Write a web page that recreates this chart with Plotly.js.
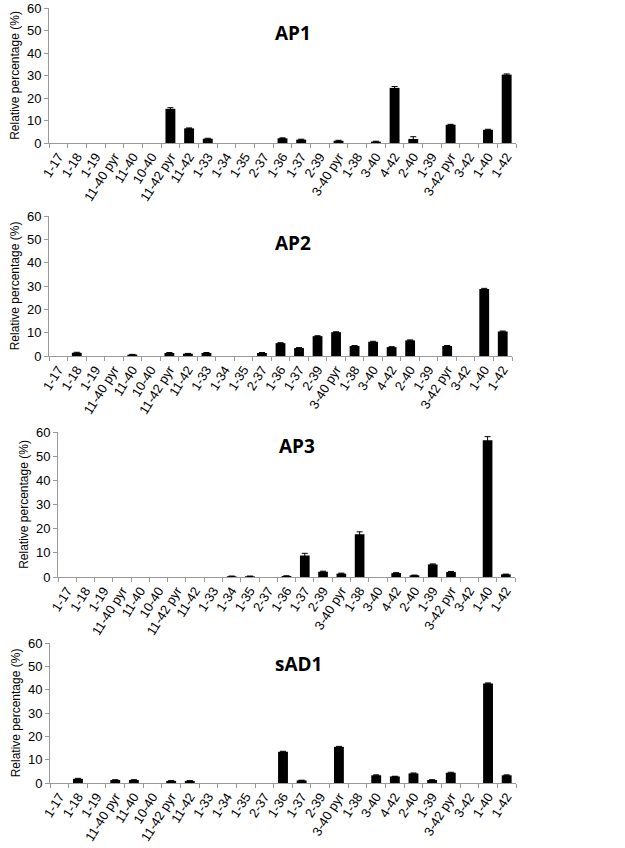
<!DOCTYPE html>
<html>
<head>
<meta charset="utf-8">
<script src="https://cdn.plot.ly/plotly-3.0.1.min.js"></script>
<style>html,body{margin:0;padding:0;background:#fff;}#chart{width:625px;height:848px;}</style>
</head>
<body>
<div id="chart"></div>
<script>
const categories = ["1-17","1-18","1-19","11-40 pyr","11-40","10-40","11-42 pyr","11-42","1-33","1-34","1-35","2-37","1-36","1-37","2-39","3-40 pyr","1-38","3-40","4-42","2-40","1-39","3-42 pyr","3-42","1-40","1-42"];
const panelNames = ["AP1","AP2","AP3","sAD1"];

const ap1 = [0,0,0,0,0,0,15.2,6.5,1.9,0,0,0,2.1,1.5,0,1.0,0,0.6,24.5,1.8,0,8.1,0,5.9,30.4];
const ap1Err = [0,0,0,0,0,0,0.5,0.2,0.2,0,0,0,0.2,0.2,0,0.2,0,0.2,0.6,1.0,0,0.2,0,0.2,0.3];
const ap2 = [0,1.4,0,0,0.6,0,1.3,1.0,1.3,0,0,1.3,5.5,3.4,8.5,10.2,4.3,6.1,3.8,6.7,0,4.3,0,28.7,10.5];
const ap2Err = [0,0.2,0,0,0.1,0,0.2,0.1,0.2,0,0,0.2,0.2,0.2,0.2,0.2,0.2,0.2,0.2,0.2,0,0.2,0,0.3,0.2];
const ap3 = [0,0,0,0,0,0,0,0,0,0.3,0.3,0,0.4,8.9,2.2,1.4,17.7,0,1.6,0.7,5.2,2.1,0,56.6,1.1];
const ap3Err = [0,0,0,0,0,0,0,0,0,0.1,0.1,0,0.1,0.9,0.2,0.2,1.0,0,0.2,0.1,0.2,0.2,0,1.5,0.1];
const sad1 = [0,1.8,0,1.3,1.3,0,0.9,0.9,0,0,0,0,13.4,1.1,0,15.5,0,3.3,2.8,4.1,1.3,4.4,0,42.7,3.3];
const sad1Err = [0,0.2,0,0.1,0.1,0,0.1,0.1,0,0,0,0,0.2,0.1,0,0.2,0,0.2,0.1,0.2,0.1,0.2,0,0.2,0.2];
const yTicks = [0,10,20,30,40,50,60];

const series = [ap1, ap2, ap3, sad1];
const errs = [ap1Err, ap2Err, ap3Err, sad1Err];

const W = 625, H = 848;
// pixel boxes of each panel [left, right, top, bottom]
const boxes = [[49,516,8,143],[49,512,216,356],[58,515,432,577],[50,516,643,783]];
const titlePos = [[293,33],[293,243],[297,446],[298,664]];

const traces = [];
const layout = {
  width: W, height: H,
  margin: {l:0, r:0, t:0, b:0},
  paper_bgcolor: '#fff', plot_bgcolor: '#fff',
  showlegend: false,
  bargap: 0.47,
  font: {family: 'Liberation Sans, Arial, sans-serif', color: '#000'},
  annotations: []
};

series.forEach((vals, i) => {
  const n = i === 0 ? '' : (i+1);
  const xs = [], ys = [], es = [];
  vals.forEach((v, k) => { if (v > 0) { xs.push(categories[k]); ys.push(v); es.push(errs[i][k]); } });
  traces.push({
    type: 'bar',
    x: xs,
    y: ys,
    xaxis: 'x' + n,
    yaxis: 'y' + n,
    marker: {color: '#000'},
    error_y: {type: 'data', array: es, visible: true, color: '#000', thickness: 1, width: 3},
    hoverinfo: 'x+y'
  });
  const b = boxes[i];
  layout['xaxis' + n] = {
    domain: [b[0]/W, b[1]/W],
    anchor: 'y' + n,
    type: 'category',
    categoryorder: 'array',
    categoryarray: categories,
    range: [-0.5, categories.length - 0.5],
    tickmode: 'array',
    tickvals: categories,
    ticktext: categories,
    tickangle: -58,
    tickfont: {size: 13, family: 'Liberation Sans, Arial, sans-serif', color: '#000'},
    showline: true, linecolor: '#9a9a9a', linewidth: 1,
    ticks: 'outside', tickson: 'boundaries', ticklen: 4, tickcolor: '#9a9a9a',
    showgrid: false, zeroline: false, fixedrange: true
  };
  layout['yaxis' + n] = {
    domain: [(H - b[3])/H, (H - b[2])/H],
    anchor: 'x' + n,
    range: [0, 60.02],
    tickmode: 'array',
    tickvals: yTicks,
    ticktext: yTicks.map(String),
    tickfont: {size: 13, family: 'Liberation Sans, Arial, sans-serif', color: '#000'},
    showline: true, linecolor: '#9a9a9a', linewidth: 1,
    ticks: 'outside', ticklen: 4, tickcolor: '#9a9a9a',
    showgrid: false, zeroline: false, fixedrange: true,
    title: {text: 'Relative percentage (%)', font: {size: 12, family: 'Liberation Sans, Arial, sans-serif', color: '#000'}, standoff: 4}
  };
  layout.annotations.push({
    text: '<b>' + panelNames[i] + '</b>',
    xref: 'paper', yref: 'paper',
    x: titlePos[i][0]/W, y: (H - titlePos[i][1])/H,
    xanchor: 'center', yanchor: 'middle',
    showarrow: false,
    font: {size: 19, family: 'Open Sans, sans-serif', color: '#000'}
  });
});

Plotly.newPlot('chart', traces, layout, {displayModeBar: false, staticPlot: true});
</script>
</body>
</html>
